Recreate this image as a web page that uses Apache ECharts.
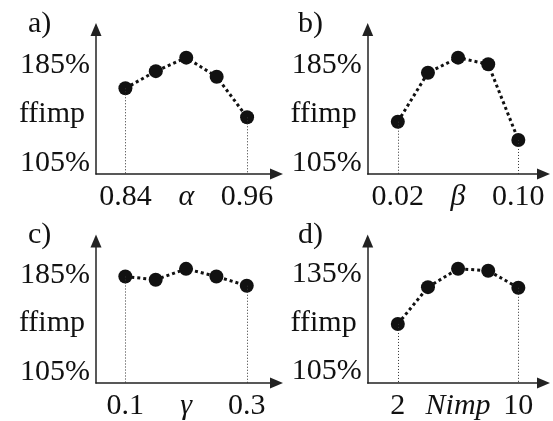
<!DOCTYPE html>
<html>
<head>
<meta charset="utf-8">
<script src="https://cdn.jsdelivr.net/npm/echarts@6.0.0/dist/echarts.min.js"></script>
<style>
  html, body { margin: 0; padding: 0; background: #fff; }
  #main { width: 553px; height: 421px; }
</style>
</head>
<body>
<div id="main"></div>
<script>
  // parameter values on the x axes
  var alphaX = [0.84, 0.87, 0.90, 0.93, 0.96]
  var betaX = [0.02, 0.04, 0.06, 0.08, 0.10]
  var gammaX = [0.1, 0.15, 0.2, 0.25, 0.3]
  var nimpX = [2, 4, 6, 8, 10]

  // ffimp in percent
  var alphaY = [166, 180, 191, 175.4, 142.3]
  var betaY = [138.7, 178.7, 191, 185.6, 123.8]
  var gammaY = [183.6, 180.9, 189.9, 183.6, 176]
  var nimpY = [119.7, 131.1, 136.8, 136.2, 130.9]

  // tick labels
  var alphaTicks = ['0.84', 'α', '0.96']
  var betaTicks = ['0.02', 'β', '0.10']
  var gammaTicks = ['0.1', 'γ', '0.3']
  var nimpTicks = ['2', 'Nimp', '10']
  var yTicksHigh = [105, 145, 185]
  var yTicksLow = [105, 120, 135]
  var yName = 'ffimp'
  var panelNames = ['a)', 'b)', 'c)', 'd)']

  var font = '"Liberation Serif", "Times New Roman", serif'
  var ink = '#111'

  var panels = [
    {x: alphaX, y: alphaY, ticks: alphaTicks, yTicks: yTicksHigh, xMin: 0.811, xMax: 0.989, yMin: 96, yMax: 214,
      grid: {left: 96, top: 29.5, width: 180.5, height: 144.5}, title: {left: 28, top: 9}},
    {x: betaX, y: betaY, ticks: betaTicks, yTicks: yTicksHigh, xMin: 0, xMax: 0.1167, yMin: 96, yMax: 214,
      grid: {left: 367.7, top: 29.5, width: 175.8, height: 144.5}, title: {left: 298, top: 9}},
    {x: gammaX, y: gammaY, ticks: gammaTicks, yTicks: yTicksHigh, xMin: 0.0517, xMax: 0.349, yMin: 96, yMax: 212.8,
      grid: {left: 96, top: 241, width: 180.5, height: 144}, title: {left: 28, top: 220}},
    {x: nimpX, y: nimpY, ticks: nimpTicks, yTicks: yTicksLow, xMin: 0, xMax: 11.67, yMin: 101.4, yMax: 145.4,
      grid: {left: 367.7, top: 241, width: 175.8, height: 144}, title: {left: 298, top: 220}}
  ]

  var axisLine = {
    show: true,
    symbol: ['none', 'triangle'],
    symbolSize: [11, 13],
    lineStyle: {color: '#222', width: 1.5}
  }

  var option = {
    animation: false,
    title: [],
    grid: [],
    xAxis: [],
    yAxis: [],
    series: []
  }

  panels.forEach(function (p, i) {
    var xMarks = [p.x[0], p.x[2], p.x[4]]
    option.title.push({
      text: panelNames[i],
      left: p.title.left,
      top: p.title.top,
      padding: 0,
      textStyle: {fontFamily: font, fontSize: 30, fontWeight: 'normal', color: ink}
    })
    option.grid.push(p.grid)
    option.xAxis.push({
      type: 'value',
      gridIndex: i,
      min: p.xMin,
      max: p.xMax,
      axisLine: axisLine,
      axisTick: {show: false},
      splitLine: {show: false},
      axisLabel: {
        customValues: xMarks,
        margin: 8,
        color: ink,
        fontFamily: font,
        fontSize: 30,
        formatter: function (v) {
          for (var k = 0; k < xMarks.length; k++) {
            if (Math.abs(v - xMarks[k]) < 1e-9) {
              return k === 1 ? '{i|' + p.ticks[k] + '}' : p.ticks[k]
            }
          }
          return ''
        },
        rich: {
          i: {fontFamily: font, fontSize: 30, fontStyle: 'italic', color: ink}
        }
      }
    })
    option.yAxis.push({
      type: 'value',
      gridIndex: i,
      min: p.yMin,
      max: p.yMax,
      axisLine: axisLine,
      axisTick: {show: false},
      splitLine: {show: false},
      axisLabel: {
        customValues: p.yTicks,
        margin: 6,
        color: ink,
        fontFamily: font,
        fontSize: 30,
        formatter: function (v) {
          if (v === p.yTicks[1]) return '{n|' + yName + '}'
          return v + '%'
        },
        rich: {
          n: {fontFamily: font, fontSize: 30, color: ink, padding: [0, 5, 0, 0]}
        }
      }
    })
    option.series.push({
      type: 'line',
      xAxisIndex: i,
      yAxisIndex: i,
      data: p.x.map(function (v, k) { return [v, p.y[k]] }),
      symbol: 'circle',
      symbolSize: 14,
      itemStyle: {color: ink},
      lineStyle: {color: ink, width: 3, type: [3, 3]},
      markLine: {
        silent: true,
        symbol: 'none',
        label: {show: false},
        lineStyle: {color: '#333', width: 1, type: [1, 2]},
        data: [
          [{coord: [p.x[0], p.y[0]]}, {coord: [p.x[0], p.yMin]}],
          [{coord: [p.x[4], p.y[4]]}, {coord: [p.x[4], p.yMin]}]
        ]
      }
    })
  })

  var myChart = echarts.init(document.getElementById('main'))
  myChart.setOption(option)
</script>
</body>
</html>
